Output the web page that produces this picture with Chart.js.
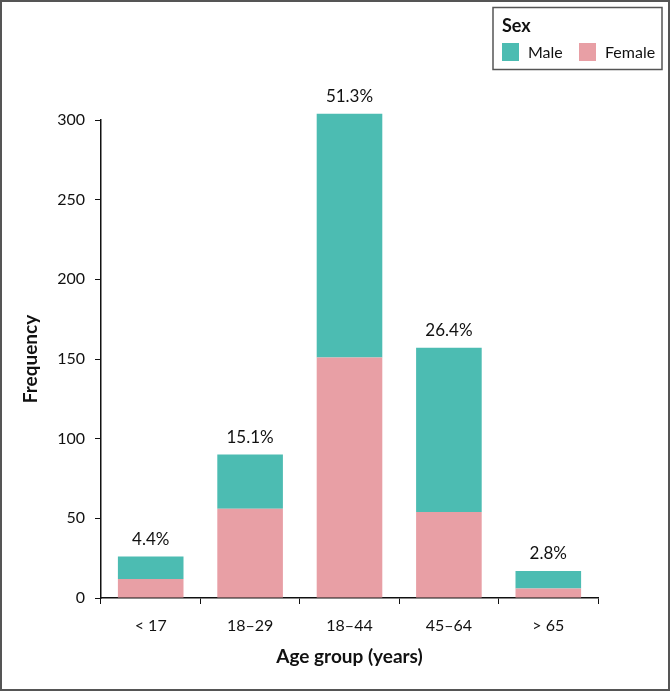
<!DOCTYPE html>
<html>
<head>
<meta charset="utf-8">
<script src="https://cdn.jsdelivr.net/npm/chart.js@4.4.1/dist/chart.umd.min.js"></script>
<style>
  html, body { margin: 0; padding: 0; background: #fff; }
  #wrap { width: 670px; height: 691px; position: relative; }
</style>
</head>
<body>
<div id="wrap"><canvas id="ageChart" width="670" height="691"></canvas></div>
<script>
// chart data
var ageGroups = ["< 17", "18\u201329", "18\u201344", "45\u201364", "> 65"];
var femaleCounts = [12, 56, 151, 54, 6];
var maleCounts = [14, 34, 153, 103, 11];
var percentLabels = ["4.4%", "15.1%", "51.3%", "26.4%", "2.8%"];
var yTicks = [0, 50, 100, 150, 200, 250, 300];

var maleColor = "#4cbcb2";
var femaleColor = "#e89fa5";
var fontName = "Lato, 'Open Sans', sans-serif";

// percentages above each stacked bar
var percentPlugin = {
    id: "percentPlugin",
    afterDatasetsDraw: function (chart) {
        var ctx = chart.ctx;
        var x = chart.scales.x;
        var y = chart.scales.y;
        ctx.save();
        ctx.font = "17px " + fontName;
        ctx.fillStyle = "#111";
        ctx.textAlign = "center";
        ctx.textBaseline = "alphabetic";
        for (var i = 0; i < ageGroups.length; i++) {
            var total = femaleCounts[i] + maleCounts[i];
            ctx.fillText(percentLabels[i], x.getPixelForValue(i), y.getPixelForValue(total) - 12);
        }
        ctx.restore();
    }
};

// boxed legend in the top right + outer frame
var legendBoxPlugin = {
    id: "legendBoxPlugin",
    afterDraw: function (chart) {
        var ctx = chart.ctx;
        ctx.save();
        ctx.strokeStyle = "#555";
        ctx.lineWidth = 2;
        ctx.strokeRect(1, 1, chart.width - 2, chart.height - 2);

        ctx.lineWidth = 1.5;
        ctx.strokeRect(493, 7.5, 169, 62);
        ctx.fillStyle = "#111";
        ctx.font = "bold 18px " + fontName;
        ctx.textBaseline = "middle";
        ctx.textAlign = "left";
        ctx.fillText("Sex", 502, 26);

        // legend items: Male first, then Female (reverse of stack order)
        var items = chart.data.datasets.slice().reverse();
        var xs = [502, 579];
        ctx.font = "16px " + fontName;
        for (var i = 0; i < items.length; i++) {
            ctx.fillStyle = items[i].backgroundColor;
            ctx.fillRect(xs[i], 43, 17, 18);
            ctx.fillStyle = "#111";
            ctx.fillText(items[i].label, xs[i] + 26, 53);
        }
        ctx.restore();
    }
};

const ageChart = new Chart("ageChart", {
    type: "bar",
    data: {
        labels: ageGroups,
        datasets: [{
            label: "Female",
            data: femaleCounts,
            backgroundColor: femaleColor,
            clip: false
        }, {
            label: "Male",
            data: maleCounts,
            backgroundColor: maleColor,
            clip: false
        }]
    },
    options: {
        responsive: false,
        animation: false,
        devicePixelRatio: 1,
        layout: { padding: { left: 0, right: 72, top: 120, bottom: 0 } },
        barPercentage: 0.66,
        categoryPercentage: 1,
        plugins: {
            legend: { display: false },
            tooltip: { enabled: false }
        },
        scales: {
            x: {
                stacked: true,
                offset: true,
                grid: {
                    display: true,
                    drawOnChartArea: false,
                    drawTicks: true,
                    tickLength: 6,
                    color: "#111",
                    offset: true
                },
                border: { display: true, color: "#111", width: 1.5 },
                ticks: { color: "#111", font: { family: fontName, size: 16 }, padding: 12 },
                title: {
                    display: true,
                    text: "Age group (years)",
                    color: "#111",
                    font: { family: fontName, size: 19, weight: "bold" },
                    padding: { top: 0, bottom: 23 }
                },
                afterFit: function (scale) { scale.height = 93; }
            },
            y: {
                stacked: true,
                min: 0,
                max: 300,
                afterBuildTicks: function (scale) {
                    scale.ticks = yTicks.map(function (v) { return { value: v }; });
                },
                grid: {
                    display: true,
                    drawOnChartArea: false,
                    drawTicks: true,
                    tickLength: 6,
                    color: "#111"
                },
                border: { display: true, color: "#111", width: 1.5 },
                ticks: { color: "#111", font: { family: fontName, size: 16 }, padding: 10 },
                title: {
                    display: true,
                    text: "Frequency",
                    color: "#111",
                    font: { family: fontName, size: 19, weight: "bold" },
                    padding: { top: 19, bottom: 0 }
                },
                afterFit: function (scale) { scale.width = 101; }
            }
        }
    },
    plugins: [percentPlugin, legendBoxPlugin]
});
</script>
</body>
</html>
